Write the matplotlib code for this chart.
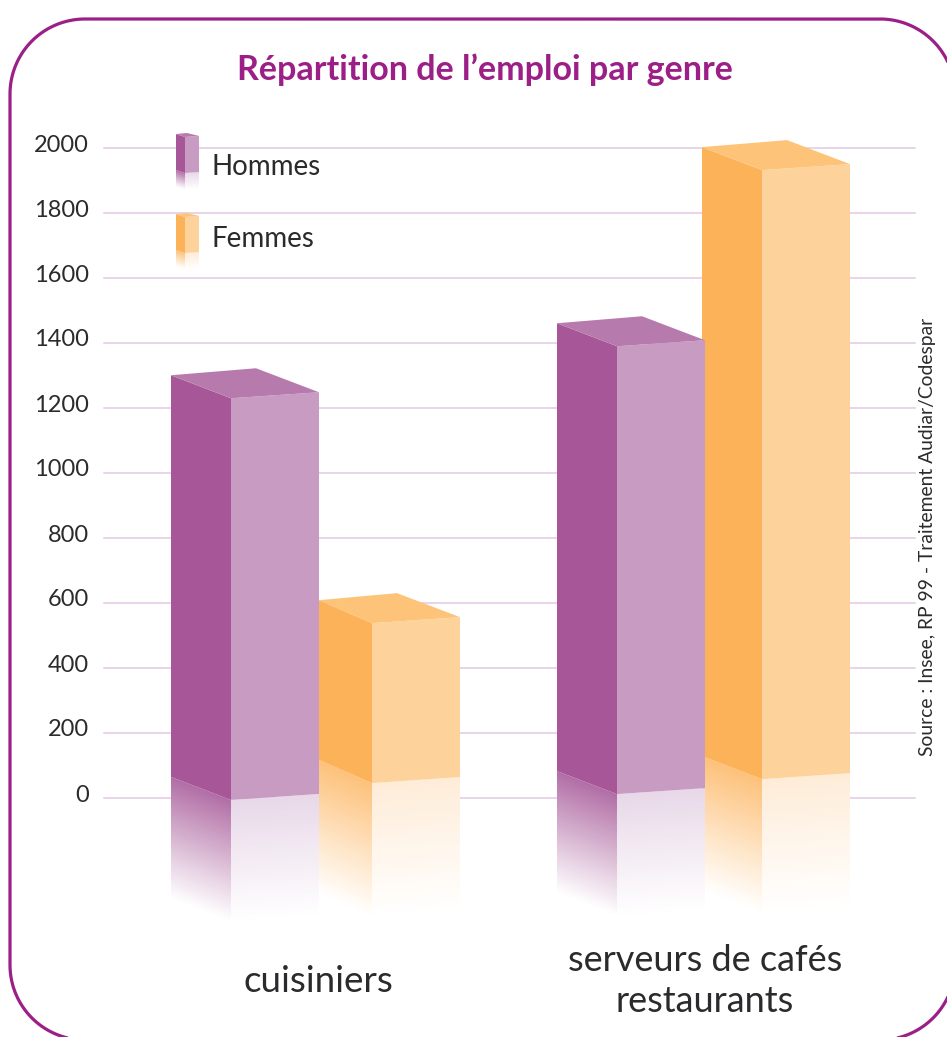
import numpy as np
import matplotlib
matplotlib.use('Agg')
import matplotlib.pyplot as plt

plt.rcParams['font.family'] = ['Lato', 'DejaVu Sans']

# données
categories = ['cuisiniers', 'serveurs de cafés\nrestaurants']
hommes = [1230, 1390]
femmes = [538, 1932]
hommes_base = [-6, 12]
femmes_base = [46, 58]
tick_values = [0, 200, 400, 600, 800, 1000, 1200, 1400, 1600, 1800, 2000]

# styles
W, H = 947, 1037
PX = 650 / 2000  # pixels par unité
PURPLE = '#9b1f86'
GRID = '#e3c9e4'
TEXT = '#2b2a2c'
C_H = {'left': '#a75798', 'right': '#c89bc3', 'top': '#b77aac', 'rl': '#b26fa6', 'rr': '#e8d8e8'}
C_F = {'left': '#fcb258', 'right': '#fdd29b', 'top': '#fdc378', 'rl': '#fdc27c', 'rr': '#feecd8'}
# bords x de chaque barre : gauche, arête avant, droite, arête arrière
X_H = [(171, 231, 319, 256), (557, 617, 705, 642)]
X_F = [(319, 372, 460, 397), (702, 762, 850, 787)]


def hex2rgb(c):
    return np.array(matplotlib.colors.to_rgb(c))


def draw_box(ax, xs, top, base, col, up_left, up_right, up_back, fade, n=60):
    # une barre en fausse 3D : y en unités de l'axe
    xl, xf, xr, xb = xs
    # reflet dégradé sous la barre
    for i in range(n):
        t0, t1 = i / n, (i + 1.5) / n
        y0, y1 = t0 * fade, t1 * fade
        c_l = hex2rgb(col['rl']) * (1 - t0) + t0
        c_r = hex2rgb(col['rr']) * (1 - t0) + t0
        ax.fill([xl, xf, xf, xl],
                [base + up_left - y0, base - y0, base - y1, base + up_left - y1],
                color=c_l, lw=0, clip_on=False)
        ax.fill([xf, xr, xr, xf],
                [base - y0, base + up_right - y0, base + up_right - y1, base - y1],
                color=c_r, lw=0, clip_on=False)
    ax.fill([xl, xf, xf, xl], [top + up_left, top, base, base + up_left],
            color=col['left'], lw=0, clip_on=False)
    ax.fill([xf, xr, xr, xf], [top, top + up_right, base + up_right, base],
            color=col['right'], lw=0, clip_on=False)
    ax.fill([xl, xf, xr, xb], [top + up_left, top, top + up_right, top + up_back],
            color=col['top'], lw=0, clip_on=False)


fig = plt.figure(figsize=(W / 100, H / 100), dpi=100, facecolor='white')

# axe principal : x en pixels, y en valeurs
ax = fig.add_axes([104 / W, (H - 798) / H, 811 / W, 650 / H], zorder=1)
ax.set_xlim(104, 915)
ax.set_ylim(0, 2000)
ax.patch.set_alpha(0)
for s in ax.spines.values():
    s.set_visible(False)
ax.set_xticks([])
ax.set_yticks(tick_values)
ax.set_yticklabels([str(v) for v in tick_values], fontsize=17, color=TEXT)
ax.tick_params(axis='y', length=0, pad=11)
ax.yaxis.grid(True, color=GRID, lw=1.1, clip_on=False)
ax.set_axisbelow(True)
offset = matplotlib.transforms.ScaledTranslation(0, 5 / 100, fig.dpi_scale_trans)
for lab in ax.get_yticklabels():
    lab.set_transform(lab.get_transform() + offset)

up_l, up_r, up_b = 23 / PX, 6 / PX, 30 / PX
draw_box(ax, X_F[0], femmes[0], femmes_base[0], C_F, up_l, up_r, up_b, 132 / PX)
draw_box(ax, X_H[0], hommes[0], hommes_base[0], C_H, up_l, up_r, up_b, 120 / PX)
draw_box(ax, X_F[1], femmes[1], femmes_base[1], C_F, up_l, up_r, up_b, 132 / PX)
draw_box(ax, X_H[1], hommes[1], hommes_base[1], C_H, up_l, up_r, up_b, 120 / PX)

# calque en pixels : cadre, titre, légende, textes
top = fig.add_axes([0, 0, 1, 1], zorder=2)
top.set_xlim(0, W)
top.set_ylim(H, 0)
top.axis('off')
top.patch.set_alpha(0)

# cadre arrondi (déborde à droite et en bas)
L, T, R, B, r = 10, 19, 955, 1040, 75
a = np.linspace(0, np.pi / 2, 40)
fx = np.r_[L + r - r * np.cos(a), R - r + r * np.sin(a), R - r + r * np.cos(a), L + r - r * np.sin(a), L]
fy = np.r_[T + r - r * np.sin(a), T + r - r * np.cos(a), B - r + r * np.sin(a), B - r + r * np.cos(a), T + r]
top.plot(fx, fy, color=PURPLE, lw=2.3, solid_capstyle='butt')

top.text(485, 70, 'Répartition de l’emploi par genre', color=PURPLE, fontsize=24.5,
         fontweight='bold', ha='center', va='center')

# légende
def swatch(col, y0):
    x = (176, 185, 199)
    ys = (y0, y0 + 3, y0 + 2)
    bot = (y0 + 36, y0 + 39, y0 + 38)
    for i in range(20):
        t0, t1 = i / 20, (i + 1.5) / 20
        c_l = hex2rgb(col['rl']) * (1 - t0) + t0
        c_r = hex2rgb(col['rr']) * (1 - t0) + t0
        top.fill([x[0], x[1], x[1], x[0]],
                 [bot[0] + t0 * 16, bot[1] + t0 * 16, bot[1] + t1 * 16, bot[0] + t1 * 16], color=c_l, lw=0)
        top.fill([x[1], x[2], x[2], x[1]],
                 [bot[1] + t0 * 16, bot[2] + t0 * 16, bot[2] + t1 * 16, bot[1] + t1 * 16], color=c_r, lw=0)
    top.fill([x[0], x[1], x[1], x[0]], [ys[0], ys[1], bot[1], bot[0]], color=col['left'], lw=0)
    top.fill([x[1], x[2], x[2], x[1]], [ys[1], ys[2], bot[2], bot[1]], color=col['right'], lw=0)
    top.fill([x[0], x[1], x[2], x[1] + 2], [ys[0], ys[1], ys[2], y0 - 1], color=col['top'], lw=0)


swatch(C_H, 134)
swatch(C_F, 214)
top.text(212, 167, 'Hommes', color=TEXT, fontsize=20, ha='left', va='center')
top.text(212, 239, 'Femmes', color=TEXT, fontsize=20, ha='left', va='center')

top.text(318, 982, categories[0], color=TEXT, fontsize=26.5, ha='center', va='center')
top.text(705, 981, categories[1], color=TEXT, fontsize=26, ha='center', va='center', linespacing=1.3)

top.text(928, 537, 'Source : Insee, RP 99 - Traitement Audiar/Codespar', color=TEXT, fontsize=13.9,
         rotation=90, ha='center', va='center')

fig.savefig('out.png', dpi=100)
